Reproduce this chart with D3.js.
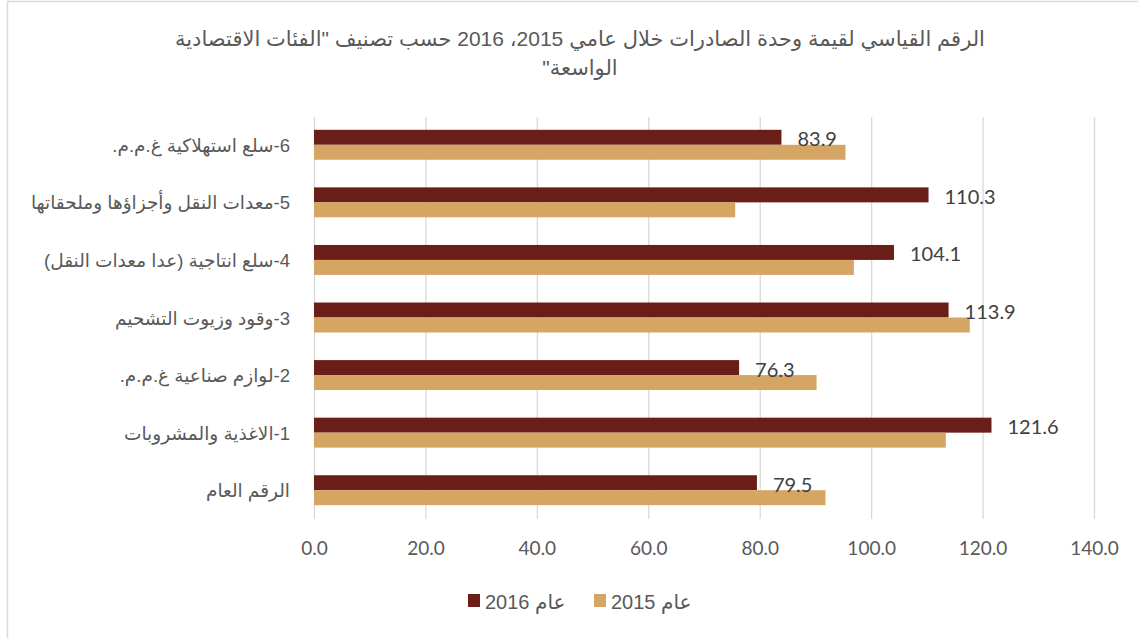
<!DOCTYPE html>
<html>
<head>
<meta charset="utf-8">
<script src="https://cdn.jsdelivr.net/npm/d3@7"></script>
<style>
  body { margin: 0; background: #fff; }
  svg { display: block; }
</style>
</head>
<body>
<svg id="chart" width="1138" height="638"></svg>
<script>
// categories top to bottom as drawn
var categories = [
    "6-سلع استهلاكية غ.م.م.",
    "5-معدات النقل وأجزاؤها وملحقاتها",
    "4-سلع انتاجية (عدا معدات النقل)",
    "3-وقود وزيوت التشحيم",
    "2-لوازم صناعية غ.م.م.",
    "1-الاغذية والمشروبات",
    "الرقم العام"
];
var values2016 = [83.9, 110.3, 104.1, 113.9, 76.3, 121.6, 79.5];
var values2015 = [95.4, 75.6, 96.9, 117.7, 90.2, 113.4, 91.8];
var seriesNames = ["عام 2016", "عام 2015"];
var xTicks = [0, 20, 40, 60, 80, 100, 120, 140];
var titleLines = [
    'الرقم القياسي لقيمة وحدة الصادرات خلال عامي 2015، 2016 حسب تصنيف "الفئات الاقتصادية',
    'الواسعة"'
];

var darkColor = "#6b1d17",
    tanColor = "#d5a563",
    gridColor = "#d9d9d9",
    textColor = "#595959";
var arFont = "'Liberation Sans', 'DejaVu Sans', sans-serif";
var numFont = "Lato, 'Liberation Sans', sans-serif";

var svg = d3.select("#chart");

// chart border (only left/top visible in the frame)
svg.append("rect")
    .attr("x", 7.5).attr("y", 1.5)
    .attr("width", 1150).attr("height", 660)
    .attr("fill", "none")
    .attr("stroke", gridColor)
    .attr("stroke-width", 1.5);

var x = d3.scaleLinear().domain([0, 140]).range([314, 1094]);
var y = d3.scaleBand().domain(categories).range([116, 519])
    .paddingInner(0.48).paddingOuter(0.24);
var ySub = d3.scaleBand().domain(seriesNames).range([0, y.bandwidth()]);

// title
svg.append("g").selectAll("text")
    .data(titleLines)
    .enter().append("text")
    .attr("x", 580)
    .attr("y", function(d, i) { return 46 + i * 29; })
    .attr("text-anchor", "middle")
    .attr("direction", "rtl")
    .style("font-family", arFont)
    .style("font-size", "21px")
    .style("fill", textColor)
    .text(function(d) { return d; });

// vertical gridlines
svg.append("g").selectAll("line")
    .data(xTicks)
    .enter().append("line")
    .attr("x1", function(d) { return x(d) + 0.5; })
    .attr("x2", function(d) { return x(d) + 0.5; })
    .attr("y1", 117).attr("y2", 519)
    .attr("stroke", gridColor)
    .attr("stroke-width", 1.3);

// x tick labels
var xAxis = d3.axisBottom(x).tickValues(xTicks).tickFormat(d3.format(".1f")).tickSize(0).tickPadding(0);
var ax = svg.append("g").attr("transform", "translate(0,541)").call(xAxis);
ax.select(".domain").remove();
ax.selectAll("text")
    .style("font-family", numFont)
    .style("font-size", "19px")
    .style("fill", textColor);

// bars
var rows = categories.map(function(c, i) {
    return { cat: c, v2016: values2016[i], v2015: values2015[i] };
});

var groups = svg.append("g").selectAll("g")
    .data(rows)
    .enter().append("g")
    .attr("transform", function(d) { return "translate(0," + y(d.cat) + ")"; });

groups.append("rect")
    .attr("x", x(0))
    .attr("y", ySub(seriesNames[0]))
    .attr("width", function(d) { return x(d.v2016) - x(0); })
    .attr("height", ySub.bandwidth())
    .attr("fill", darkColor);

groups.append("rect")
    .attr("x", x(0))
    .attr("y", ySub(seriesNames[1]))
    .attr("width", function(d) { return x(d.v2015) - x(0); })
    .attr("height", ySub.bandwidth())
    .attr("fill", tanColor);

// data labels, 2016 only
groups.append("text")
    .attr("x", function(d) { return x(d.v2016) + 16; })
    .attr("y", ySub(seriesNames[0]) + ySub.bandwidth() / 2 + 9)
    .style("font-family", numFont)
    .style("font-size", "20px")
    .style("fill", "#404040")
    .text(function(d) { return d3.format(".1f")(d.v2016); });

// category labels
svg.append("g").selectAll("text")
    .data(categories)
    .enter().append("text")
    .attr("x", 290)
    .attr("y", function(d) { return y(d) + y.bandwidth() / 2 + 7; })
    .attr("direction", "rtl")
    .attr("text-anchor", "start")
    .style("font-family", arFont)
    .style("font-size", "18.5px")
    .style("fill", textColor)
    .text(function(d) { return d; });

// legend
var legend = svg.append("g");
var legendItems = [
    { name: seriesNames[0], color: darkColor, x: 468 },
    { name: seriesNames[1], color: tanColor, x: 594 }
];
legend.selectAll("rect")
    .data(legendItems)
    .enter().append("rect")
    .attr("x", function(d) { return d.x; })
    .attr("y", 594)
    .attr("width", 12).attr("height", 13)
    .attr("fill", function(d) { return d.color; });
legend.selectAll("text")
    .data(legendItems)
    .enter().append("text")
    .attr("x", function(d) { return d.x + 17; })
    .attr("y", 609)
    .attr("direction", "rtl")
    .attr("text-anchor", "end")
    .style("font-family", arFont)
    .style("font-size", "20px")
    .style("fill", textColor)
    .text(function(d) { return d.name; });
</script>
</body>
</html>
